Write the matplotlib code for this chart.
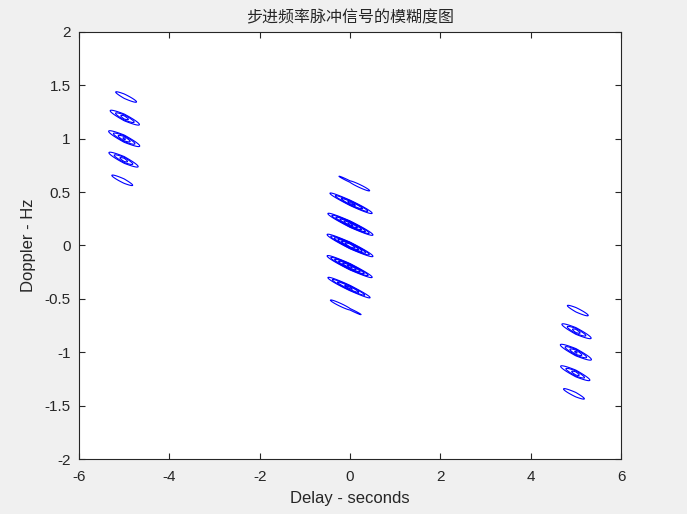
import numpy as np
import matplotlib
matplotlib.use('Agg')
import matplotlib.pyplot as plt

# stepped frequency pulse train parameters
n_pulses = 4        # number of pulses
pri = 5.0           # pulse repetition interval, s
pulse_width = 1.0   # pulse width, s
freq_step = 1.0     # frequency step between pulses, Hz
levels = [0.49, 0.57, 0.65, 0.73, 0.81, 0.89]

x_ticks = [-6, -4, -2, 0, 2, 4, 6]
y_ticks = [-2, -1.5, -1, -0.5, 0, 0.5, 1, 1.5, 2]
y_tick_labels = ['-2', '-1.5', '-1', '-0.5', '0', '0.5', '1', '1.5', '2']

delay = np.linspace(-6, 6, 1601)
doppler = np.linspace(-2, 2, 1201)
tau, fd = np.meshgrid(delay, doppler)

# ambiguity function, summed over all pulse pairs
amb = np.zeros(tau.shape, dtype=complex)
for m in range(n_pulses):
    for n in range(n_pulses):
        a = np.maximum(m * pri, n * pri + tau)
        b = np.minimum(m * pri + pulse_width, n * pri + tau + pulse_width)
        length = np.clip(b - a, 0, None)
        nu = (m - n) * freq_step + fd
        term = np.exp(1j * np.pi * nu * (a + b)) * length * np.sinc(nu * length)
        amb += np.exp(2j * np.pi * n * freq_step * tau) * term
amb = np.abs(amb)
amb = amb / amb.max()

plt.rcParams['font.family'] = ['Liberation Sans', 'DejaVu Sans']
plt.rcParams['axes.unicode_minus'] = False
fig = plt.figure(figsize=(6.87, 5.14), dpi=100, facecolor='#f0f0f0')
ax = fig.add_axes([0.115, 0.107, 0.789, 0.831])
ax.contour(delay, doppler, amb, levels=levels, colors='b', linewidths=0.8)

ax.set_xlim(-6, 6)
ax.set_ylim(-2, 2)
ax.set_xticks(x_ticks)
ax.set_yticks(y_ticks)
ax.set_yticklabels(y_tick_labels)
ax.tick_params(direction='in', top=True, right=True, labelsize=11,
               colors='#262626', length=4, width=0.8)
ax.tick_params(axis='x', pad=8)
ax.tick_params(axis='y', pad=6)
for s in ax.spines.values():
    s.set_color('#262626')
    s.set_linewidth(0.8)
ax.set_xlabel('Delay - seconds', fontsize=12, color='#262626', labelpad=5)
ax.set_ylabel('Doppler - Hz', fontsize=12, color='#262626', labelpad=6)
ax.set_title('步进频率脉冲信号的模糊度图', fontsize=11.5,
             family=['Noto Sans CJK SC', 'DejaVu Sans'], color='#262626', pad=7)

fig.savefig('out.png', dpi=100, facecolor=fig.get_facecolor())
